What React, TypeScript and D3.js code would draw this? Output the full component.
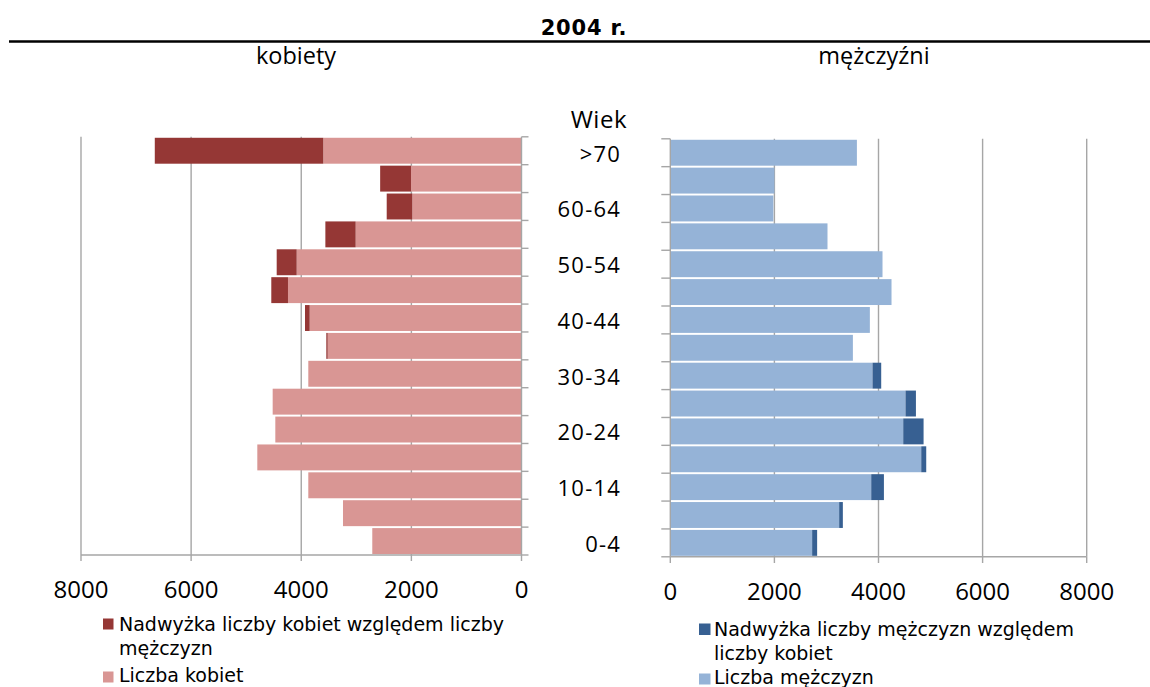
import React from "react";
import * as d3 from "d3";

const categories = [">70", "65-69", "60-64", "55-59", "50-54", "45-49", "40-44", "35-39", "30-34", "25-29", "20-24", "15-19", "10-14", "5-9", "0-4"];
const labelledCategories = [">70", "60-64", "50-54", "40-44", "30-34", "20-24", "10-14", "0-4"];
const womenBase = [3600, 2007, 1983, 3012, 4083, 4241, 3847, 3520, 3872, 4519, 4471, 4798, 3872, 3242, 2710];
const womenExcess = [3060, 560, 465, 550, 363, 303, 85, 25, 0, 0, 0, 0, 0, 0, 0];
const menBase = [3585, 2000, 1980, 3020, 4077, 4250, 3834, 3508, 3885, 4519, 4475, 4821, 3860, 3244, 2725];
const menExcess = [0, 0, 0, 0, 0, 0, 0, 0, 167, 200, 391, 96, 244, 71, 96];
const xTicks = [0, 2000, 4000, 6000, 8000];

const C = {
  wBase: "#D99694",
  wExcess: "#953735",
  mBase: "#95B3D7",
  mExcess: "#376092",
  grid: "#A6A6A6",
};

const FONT_OS = "'Open Sans', sans-serif";
const FONT_DJ = "'DejaVu Sans', sans-serif";

export default function App() {
  // Left (women) panel
  const xL = d3.scaleLinear().domain([0, 8000]).range([521.5, 81]);
  const yL = d3.scaleBand<string>().domain(categories).range([136.8, 555]).paddingInner(0.07).paddingOuter(0.035);
  // Right (men) panel
  const xR = d3.scaleLinear().domain([0, 8000]).range([670.3, 1086.7]);
  const yR = d3.scaleBand<string>().domain(categories).range([138.8, 556.8]).paddingInner(0.07).paddingOuter(0.035);

  const stepL = yL.step();
  const stepR = yR.step();
  const boundsL = d3.range(categories.length + 1).map((i) => 136.8 + i * stepL);
  const boundsR = d3.range(categories.length + 1).map((i) => 138.8 + i * stepR);

  return (
    <svg width={1150} height={687} style={{ position: "absolute", left: 0, top: 0, background: "#fff" }}>
      {/* header */}
      <text x={584} y={35} textAnchor="middle" fontFamily={FONT_DJ} fontWeight="bold" fontSize={21} letterSpacing={0.8} fill="#000">2004 r.</text>
      <line x1={9} x2={1150} y1={41.5} y2={41.5} stroke="#000" strokeWidth={2.5} />
      <text x={296} y={64} textAnchor="middle" fontFamily={FONT_OS} fontSize={23.5} fill="#000">kobiety</text>
      <text x={874} y={64} textAnchor="middle" fontFamily={FONT_OS} fontSize={23.5} fill="#000">mężczyźni</text>

      {/* LEFT PANEL */}
      {xTicks.filter((t) => t > 0).map((t) => (
        <line key={"gl" + t} x1={xL(t)} x2={xL(t)} y1={136.8} y2={555} stroke={C.grid} strokeWidth={1.4} />
      ))}
      {categories.map((c, i) => (
        <g key={"wl" + c}>
          <rect x={xL(womenBase[i])} y={yL(c)} width={xL(0) - xL(womenBase[i])} height={yL.bandwidth()} fill={C.wBase} />
          {womenExcess[i] > 0 && (
            <rect x={xL(womenBase[i] + womenExcess[i])} y={yL(c)} width={xL(womenBase[i]) - xL(womenBase[i] + womenExcess[i])} height={yL.bandwidth()} fill={C.wExcess} />
          )}
        </g>
      ))}
      <line x1={xL(0)} x2={xL(0)} y1={136.8} y2={555} stroke={C.grid} strokeWidth={1.4} />
      {boundsL.map((b, i) => (
        <line key={"tl" + i} x1={xL(0)} x2={xL(0) + 7} y1={b} y2={b} stroke={C.grid} strokeWidth={1.4} />
      ))}
      <line x1={xL(8000)} x2={xL(0)} y1={555} y2={555} stroke={C.grid} strokeWidth={1.4} />
      {xTicks.map((t) => (
        <g key={"xl" + t}>
          <line x1={xL(t)} x2={xL(t)} y1={555} y2={561} stroke={C.grid} strokeWidth={1.4} />
          <text x={xL(t)} y={598} textAnchor="middle" fontFamily={FONT_OS} fontSize={24} fill="#000">{t}</text>
        </g>
      ))}

      {/* CENTER LABELS */}
      <text x={627} y={128} textAnchor="end" fontFamily={FONT_OS} fontSize={24} letterSpacing={0.5} fill="#000">Wiek</text>
      {labelledCategories.map((c) => (
        <text key={"cl" + c} x={621} y={(yR(c) as number) + yR.bandwidth() / 2 + 9} textAnchor="end" fontFamily={FONT_OS} fontSize={22} letterSpacing={1.2} fill="#000">{c}</text>
      ))}

      {/* RIGHT PANEL */}
      {xTicks.filter((t) => t > 0).map((t) => (
        <line key={"gr" + t} x1={xR(t)} x2={xR(t)} y1={138.8} y2={556.8} stroke={C.grid} strokeWidth={1.4} />
      ))}
      {categories.map((c, i) => (
        <g key={"mr" + c}>
          <rect x={xR(0)} y={yR(c)} width={xR(menBase[i]) - xR(0)} height={yR.bandwidth()} fill={C.mBase} />
          {menExcess[i] > 0 && (
            <rect x={xR(menBase[i])} y={yR(c)} width={xR(menBase[i] + menExcess[i]) - xR(menBase[i])} height={yR.bandwidth()} fill={C.mExcess} />
          )}
        </g>
      ))}
      <line x1={xR(0)} x2={xR(0)} y1={138.8} y2={556.8} stroke={C.grid} strokeWidth={1.4} />
      {boundsR.map((b, i) => (
        <line key={"tr" + i} x1={xR(0) - 9} x2={xR(0)} y1={b} y2={b} stroke={C.grid} strokeWidth={1.4} />
      ))}
      <line x1={xR(0)} x2={xR(8000)} y1={556.8} y2={556.8} stroke={C.grid} strokeWidth={1.4} />
      {xTicks.map((t) => (
        <g key={"xr" + t}>
          <line x1={xR(t)} x2={xR(t)} y1={556.8} y2={563} stroke={C.grid} strokeWidth={1.4} />
          <text x={xR(t)} y={599.5} textAnchor="middle" fontFamily={FONT_OS} fontSize={24} fill="#000">{t}</text>
        </g>
      ))}

      {/* LEGENDS */}
      <rect x={103} y={618.5} width={10.5} height={11} fill={C.wExcess} />
      <text x={119} y={631} fontFamily={FONT_DJ} fontSize={19} fill="#000">Nadwyżka liczby kobiet względem liczby</text>
      <text x={119} y={655} fontFamily={FONT_DJ} fontSize={19} fill="#000">mężczyzn</text>
      <rect x={103} y={671.5} width={10.5} height={11} fill={C.wBase} />
      <text x={119} y={682} fontFamily={FONT_DJ} fontSize={19} fill="#000">Liczba kobiet</text>

      <rect x={699} y={623.5} width={11.5} height={11.5} fill={C.mExcess} />
      <text x={714} y={635.5} fontFamily={FONT_DJ} fontSize={19} fill="#000">Nadwyżka liczby mężczyzn względem</text>
      <text x={714} y={659.5} fontFamily={FONT_DJ} fontSize={19} fill="#000">liczby kobiet</text>
      <rect x={699} y={673.5} width={11.5} height={11} fill={C.mBase} />
      <text x={714} y={684} fontFamily={FONT_DJ} fontSize={19} fill="#000">Liczba mężczyzn</text>
    </svg>
  );
}
